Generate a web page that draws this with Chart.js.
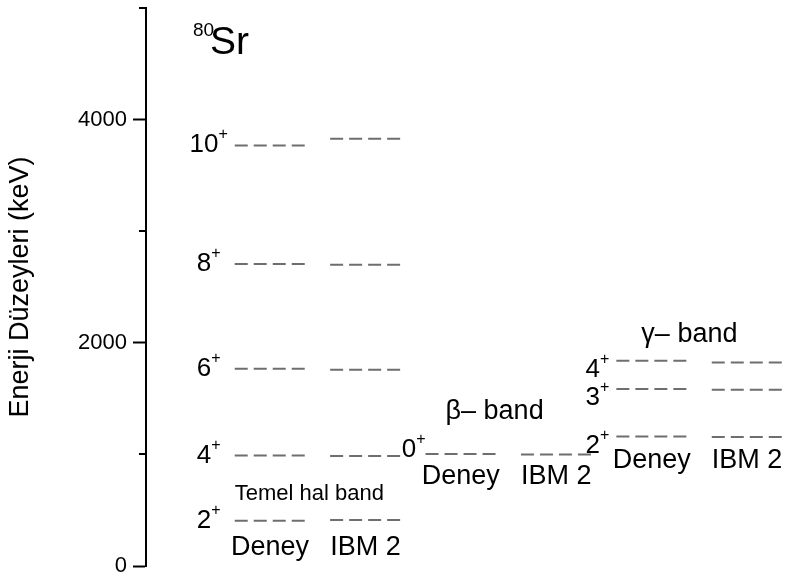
<!DOCTYPE html>
<html>
<head>
<meta charset="utf-8">
<script src="https://cdn.jsdelivr.net/npm/chart.js@4.4.0/dist/chart.umd.min.js"></script>
<style>
  html, body { margin: 0; background: #fff; }
</style>
</head>
<body>
<canvas id="chart" width="790" height="578"></canvas>
<script>
// level energies (keV)
const groundSpins = ['2', '4', '6', '8', '10'];
const groundDeney = [406, 990, 1768, 2707, 3769];
const groundIBM2 = [413, 985, 1759, 2700, 3829];
const betaSpins = ['0'];
const betaDeney = [1003];
const betaIBM2 = [998];
const gammaSpins = ['2', '3', '4'];
const gammaDeney = [1160, 1585, 1839];
const gammaIBM2 = [1155, 1579, 1824];
const bandNames = ['Temel hal band', 'β– band', 'γ– band'];
const columnNames = ['Deney', 'IBM 2'];
const yTicks = [0, 2000, 4000];
const yMinorTicks = [1000, 3000, 5000];

const FONT = "'Liberation Sans', Arial, sans-serif";
const HALF = 0.37; // half length of a level line, in column units

const bands = [
    { name: bandNames[0], spins: groundSpins, deney: groundDeney, ibm: groundIBM2 },
    { name: bandNames[1], spins: betaSpins, deney: betaDeney, ibm: betaIBM2 },
    { name: bandNames[2], spins: gammaSpins, deney: gammaDeney, ibm: gammaIBM2 }
];

// text placement for each band (pixels)
const bandLayout = [
    { spinAlign: 'center', spinDx: -26, spinDy: 7, nameDx: 0, nameDy: -21, nameFrom: 'low', nameSize: 22, colDy: 34 },
    { spinAlign: 'right', spinDx: 0, spinDy: 3, nameDx: 20, nameDy: -35, nameFrom: 'high', nameSize: 27, colDy: 29 },
    { spinAlign: 'right', spinDx: -7, spinDy: 16, nameDx: 25, nameDy: -19, nameFrom: 'high', nameSize: 27, colDy: 31 }
];

const datasets = [];
bands.forEach((b, k) => {
    [b.deney, b.ibm].forEach((vals, j) => {
        const col = 2 * k + j;
        vals.forEach(v => {
            datasets.push({
                data: [{ x: col - HALF, y: v }, { x: col + HALF, y: v }],
                borderColor: '#6e6e6e',
                borderWidth: 2,
                borderDash: [13, 6],
                pointRadius: 0,
                fill: false
            });
        });
    });
});

function drawSpin(ctx, spin, x, y, align) {
    ctx.font = '26px ' + FONT;
    const w = ctx.measureText(spin).width;
    ctx.font = '16px ' + FONT;
    const pw = ctx.measureText('+').width;
    let left = x;
    if (align === 'right') left = x - w - pw;
    if (align === 'center') left = x - (w + pw) / 2;
    ctx.textAlign = 'left';
    ctx.font = '26px ' + FONT;
    ctx.fillText(spin, left, y);
    ctx.font = '16px ' + FONT;
    ctx.fillText('+', left + w, y - 13);
}

const labelPlugin = {
    id: 'levelLabels',
    afterDatasetsDraw(chart) {
        const { ctx, chartArea, scales: { x, y } } = chart;
        ctx.save();
        ctx.fillStyle = '#000';
        ctx.textBaseline = 'alphabetic';

        // short minor ticks
        ctx.strokeStyle = '#000';
        ctx.lineWidth = 2;
        yMinorTicks.forEach(v => {
            const py = Math.round(y.getPixelForValue(v));
            ctx.beginPath();
            ctx.moveTo(chartArea.left - 7, py);
            ctx.lineTo(chartArea.left, py);
            ctx.stroke();
        });

        // nucleus name
        ctx.textAlign = 'left';
        ctx.font = '19px ' + FONT;
        ctx.fillText('80', chartArea.left + 47, 36);
        ctx.font = '39px ' + FONT;
        ctx.fillText('Sr', chartArea.left + 64, 54);

        bands.forEach((b, k) => {
            const L = bandLayout[k];
            const deneyLeft = x.getPixelForValue(2 * k - HALF);
            b.spins.forEach((s, i) => {
                drawSpin(ctx, s, deneyLeft + L.spinDx, y.getPixelForValue(b.deney[i]) + L.spinDy, L.spinAlign);
            });
            const low = y.getPixelForValue(Math.min(...b.deney, ...b.ibm));
            const high = y.getPixelForValue(Math.max(...b.deney));
            ctx.font = '27px ' + FONT;
            ctx.textAlign = 'center';
            columnNames.forEach((c, j) => {
                ctx.fillText(c, x.getPixelForValue(2 * k + j), low + L.colDy);
            });
            ctx.font = L.nameSize + 'px ' + FONT;
            ctx.textAlign = 'left';
            const ny = (L.nameFrom === 'low' ? low : high) + L.nameDy;
            ctx.fillText(b.name, deneyLeft + L.nameDx, ny);
        });
        ctx.restore();
    }
};

new Chart(document.getElementById('chart').getContext('2d'), {
    type: 'line',
    data: { datasets: datasets },
    plugins: [labelPlugin],
    options: {
        responsive: false,
        animation: false,
        devicePixelRatio: 1,
        layout: { padding: { top: 8, bottom: 12, left: 0, right: 0 } },
        plugins: { legend: { display: false }, tooltip: { enabled: false } },
        scales: {
            x: { type: 'linear', display: false, min: -1.3, max: 5.45 },
            y: {
                min: 0,
                max: 5000,
                afterFit: s => {
                    s.width = 146;
                    s.paddingTop = 0;
                    s.paddingBottom = 0;
                },
                ticks: {
                    stepSize: 1000,
                    padding: 6,
                    color: '#000',
                    font: { size: 22, family: FONT },
                    callback: v => (yTicks.includes(v) ? v : '')
                },
                grid: {
                    drawOnChartArea: false,
                    tickLength: 13,
                    tickWidth: 2,
                    tickColor: c => (c.tick && yTicks.includes(c.tick.value) ? '#000' : 'rgba(0,0,0,0)')
                },
                border: { color: '#000', width: 2 },
                title: {
                    display: true,
                    text: 'Enerji Düzeyleri (keV)',
                    color: '#000',
                    font: { size: 27, family: FONT },
                    padding: { top: 4, bottom: 0 }
                }
            }
        }
    }
});
</script>
</body>
</html>
